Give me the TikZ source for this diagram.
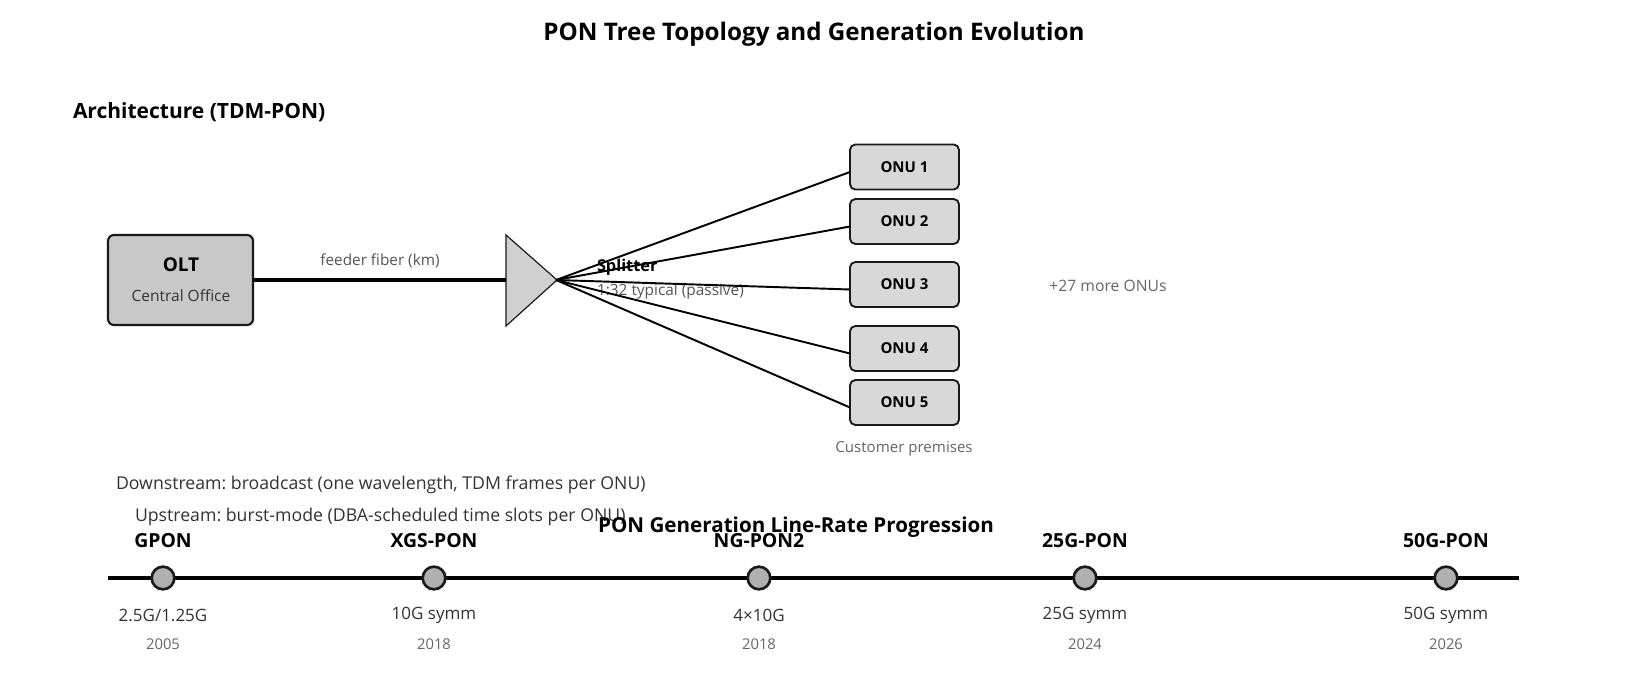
\documentclass[tikz,border=0pt]{standalone}
\usepackage{fontspec}
\setmainfont{Open Sans}
\usetikzlibrary{calc}
\frenchspacing
\newcommand\pxs[1]{\fontsize{\dimexpr #1pt*3/4\relax}{\dimexpr #1pt\relax}\selectfont}
\definecolor{olfill}{HTML}{C8C8C8}
\definecolor{onfill}{HTML}{D8D8D8}
\definecolor{spfill}{HTML}{D0D0D0}
\definecolor{dotfill}{HTML}{B0B0B0}
\definecolor{edge}{HTML}{1A1A1A}
\definecolor{txd}{HTML}{333333}
\definecolor{txm}{HTML}{555555}
\definecolor{txl}{HTML}{666666}
\begin{document}
\begin{tikzpicture}[x=0.75pt,y=-0.75pt,
  every node/.style={inner sep=0pt,outer sep=0pt},
  hdr/.style={font=\pxs{21}\bfseries,text=black},
  olt/.style={draw=edge,line width=1.6pt,fill=olfill,rounded corners=4.5pt,minimum width=108.75pt,minimum height=67.5pt},
  onu/.style={draw=edge,line width=1.4pt,fill=onfill,rounded corners=4pt,minimum width=81.75pt,minimum height=33.75pt,font=\pxs{15}\bfseries},
  fiber/.style={draw=black,line width=1.45pt},
  gdot/.style={circle,draw=edge,line width=2pt,fill=dotfill,minimum size=17pt},
  gname/.style={font=\pxs{19.4}\bfseries,text=black},
  grate/.style={font=\pxs{17},text=txd},
  gyear/.style={font=\pxs{14.8},text=txl},
  note/.style={font=\pxs{17.7},text=txd,anchor=west}
]
\useasboundingbox (0,0) rectangle (1628,688);
\fill[white] (0,0) rectangle (1628,688);

\node[font=\pxs{24.2}\bfseries] (title) at (814,34) {PON Tree Topology and Generation Evolution};
\node[hdr,anchor=west] (arch) at (73,112) {Architecture (TDM-PON)};

% OLT
\node[olt] (olt) at (180.5,280) {};
\node[font=\pxs{19}\bfseries] (oltname) at (181,265) {OLT};
\node[font=\pxs{15.5},text=txd] (oltsub) at (181,296) {Central Office};

% splitter
\coordinate (spin) at (506,280);
\coordinate (tip) at (556,280);
\draw[edge,fill=spfill,line width=0.9pt] (506,235) -- (506,326) -- (557,280) -- cycle;
\draw[black,line width=3pt] (olt.east) -- (spin);
\node[font=\pxs{15.3},text=txm] (feeder) at (380,261) {feeder fiber (km)};
\node[font=\pxs{16.3}\bfseries,anchor=west] (spname) at (597,267) {Splitter};
\node[font=\pxs{15.4},text=txm,anchor=west] (spsub) at (597,291) {1:32 typical (passive)};

% ONUs
\node[onu] (onu1) at (904.5,167) {ONU 1};
\node[onu] (onu2) at (904.5,221.5) {ONU 2};
\node[onu] (onu3) at (904.5,284.5) {ONU 3};
\node[onu] (onu4) at (904.5,348.5) {ONU 4};
\node[onu] (onu5) at (904.5,402.5) {ONU 5};
\foreach \i in {1,...,5}{\draw[fiber] (tip) -- ($(onu\i.west)+(0,5)$);}
\node[font=\pxs{15.1},text=txl] (cust) at (904,449) {Customer premises};
\node[font=\pxs{15.7},text=txl] (more) at (1108,286) {+27 more ONUs};

% notes
\node[note] (down) at (116,485) {Downstream: broadcast (one wavelength, TDM frames per ONU)};
\node[note] (up) at (135,517) {Upstream: burst-mode (DBA-scheduled time slots per ONU)};

% timeline
\node[font=\pxs{20.6}\bfseries] (tltitle) at (796,527) {PON Generation Line-Rate Progression};
\coordinate (tl0) at (108,578);
\coordinate (tl1) at (1519,578);
\draw[black,line width=2.6pt] (tl0) -- (tl1);
\foreach \n/\x/\nm/\r/\y in {g1/163/GPON/2.5G\slash1.25G/2005, g2/434/XGS-PON/10G symm/2018, g3/759/NG-PON2/4×10G/2018, g4/1085/25G-PON/25G symm/2024, g5/1446/50G-PON/50G symm/2026}{
  \node[gdot] (\n) at (\x,578) {};
  \node[gname] (\n name) at (\x,541) {\nm};
  \node[grate] (\n rate) at (\x,615) {\r};
  \node[gyear] (\n year) at (\x,644) {\y};
}
\end{tikzpicture}
\end{document}
